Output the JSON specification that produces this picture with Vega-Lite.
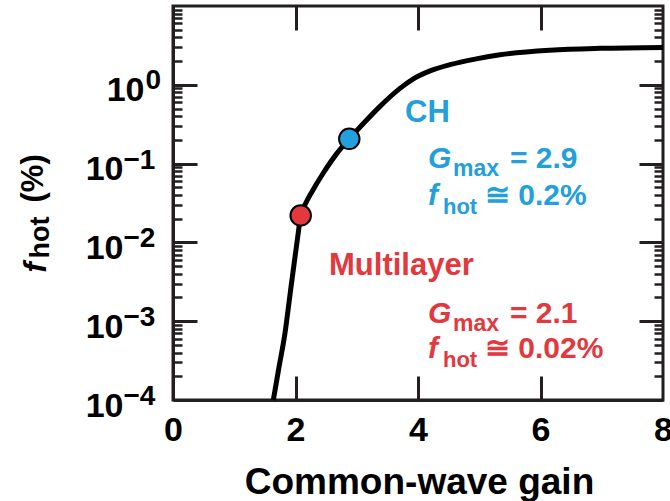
{
  "$schema": "https://vega.github.io/schema/vega-lite/v6.json",
  "width": 490,
  "height": 394,
  "autosize": "none",
  "padding": {"left": 173, "top": 6, "right": 7, "bottom": 101},
  "background": "white",
  "config": {
    "view": {"stroke": "#231f20", "strokeWidth": 3},
    "font": "Liberation Sans",
    "axis": {
      "grid": false,
      "domainColor": "#231f20",
      "tickColor": "#231f20",
      "labelColor": "#000000",
      "titleColor": "#000000",
      "labelFont": "Liberation Sans",
      "titleFont": "Liberation Sans",
      "labelFontWeight": "bold",
      "titleFontWeight": "bold",
      "domainWidth": 3,
      "labelFlush": false,
      "labelOverlap": false
    }
  },
  "datasets": {
    "curve": [
      {"g": 1.638, "fhot": 0.0001},
      {"g": 1.731, "fhot": 0.000262},
      {"g": 1.829, "fhot": 0.00071},
      {"g": 1.91, "fhot": 0.00216},
      {"g": 1.992, "fhot": 0.00656},
      {"g": 2.041, "fhot": 0.0125},
      {"g": 2.085, "fhot": 0.022},
      {"g": 2.171, "fhot": 0.0318},
      {"g": 2.269, "fhot": 0.044},
      {"g": 2.454, "fhot": 0.076},
      {"g": 2.661, "fhot": 0.13},
      {"g": 2.878, "fhot": 0.206},
      {"g": 3.135, "fhot": 0.34},
      {"g": 3.38, "fhot": 0.533},
      {"g": 3.706, "fhot": 0.9},
      {"g": 3.918, "fhot": 1.18},
      {"g": 4.196, "fhot": 1.5},
      {"g": 4.522, "fhot": 1.8},
      {"g": 4.931, "fhot": 2.12},
      {"g": 5.339, "fhot": 2.4},
      {"g": 6.155, "fhot": 2.74},
      {"g": 6.971, "fhot": 2.9},
      {"g": 8.0, "fhot": 2.98}
    ],
    "pts": [
      {"series": "Multilayer", "g": 2.085, "fhot": 0.022},
      {"series": "CH", "g": 2.878, "fhot": 0.206}
    ],
    "notes": [
      {"series": "CH", "part": "head", "g": 3.788, "fhot": 0.34, "t": "CH"},
      {"series": "CH", "part": "G", "g": 4.163, "fhot": 0.0887, "t": "= 2.9"},
      {"series": "CH", "part": "F", "g": 4.163, "fhot": 0.0301, "t": "≅ 0.2%"},
      {"series": "Multilayer", "part": "head", "g": 2.547, "fhot": 0.00387, "t": "Multilayer"},
      {"series": "Multilayer", "part": "G", "g": 4.163, "fhot": 0.00095, "t": "= 2.1"},
      {"series": "Multilayer", "part": "F", "g": 4.163, "fhot": 0.000342, "t": "≅ 0.02%"}
    ]
  },
  "resolve": {"axis": {"x": "independent", "y": "independent"}},
  "layer": [
    {
      "data": {"name": "curve"},
      "mark": {"type": "line", "color": "#000000", "strokeWidth": 5, "interpolate": "monotone"},
      "encoding": {
        "x": {"field": "g", "type": "quantitative", "scale": {"domain": [0, 8], "nice": false, "zero": false},
          "axis": {"orient": "bottom", "values": [0, 2, 4, 6, 8], "format": "d", "ticks": false, "labelPadding": 13, "labelFontSize": 34, "labelAngle": 0,
            "title": "Common-wave gain", "titleFontSize": 37, "titleBaseline": "alphabetic", "titleAlign": "center", "titleX": 246, "titleY": 93}},
        "y": {"field": "fhot", "type": "quantitative", "scale": {"type": "log", "domain": [0.0001, 10], "nice": false},
          "axis": {"orient": "left", "values": [0.1, 0.01, 0.001, 0.0001], "ticks": false, "labelExpr": "'10'", "labelAlign": "right", "labelBaseline": "alphabetic", "labelOffset": 16, "labelPadding": 50, "labelFontSize": 34, "title": null}}
      }
    },
    {
      "data": {"name": "pts"},
      "mark": {"type": "circle", "size": 420, "opacity": 1, "stroke": "#000000", "strokeWidth": 2},
      "encoding": {
        "x": {"field": "g", "type": "quantitative", "axis": null},
        "y": {"field": "fhot", "type": "quantitative",
          "axis": {"orient": "left", "values": [0.1, 0.01, 0.001, 0.0001], "ticks": false, "domain": false, "labelExpr": "'−' + round(-log(datum.value)/LN10)", "labelAlign": "left", "labelBaseline": "alphabetic", "labelOffset": 4.5, "labelPadding": 50, "labelFontSize": 28,
            "title": "(%)", "titleFontSize": 31, "titleAngle": 270, "titleAlign": "left", "titleBaseline": "alphabetic", "titleX": -131, "titleY": 196}},
        "color": {"field": "series", "type": "nominal", "scale": {"domain": ["CH", "Multilayer"], "range": ["#23a0db", "#e2383e"]}, "legend": null}
      }
    },
    {
      "data": {"name": "pts"},
      "mark": {"type": "point", "opacity": 0},
      "encoding": {
        "x": {"field": "g", "type": "quantitative", "axis": null},
        "y": {"field": "fhot", "type": "quantitative",
          "axis": {"orient": "left", "values": [1], "ticks": false, "domain": false, "labelExpr": "'10'", "labelAlign": "right", "labelBaseline": "alphabetic", "labelOffset": 16, "labelPadding": 29, "labelFontSize": 34,
            "title": "f", "titleFontStyle": "italic", "titleFontSize": 31, "titleAngle": 270, "titleAlign": "left", "titleBaseline": "alphabetic", "titleX": -128, "titleY": 266}}
      }
    },
    {
      "data": {"name": "pts"},
      "mark": {"type": "point", "opacity": 0},
      "encoding": {
        "x": {"field": "g", "type": "quantitative", "axis": null},
        "y": {"field": "fhot", "type": "quantitative",
          "axis": {"orient": "left", "values": [1], "ticks": false, "domain": false, "labelExpr": "'0'", "labelAlign": "left", "labelBaseline": "alphabetic", "labelOffset": 4, "labelPadding": 28, "labelFontSize": 28,
            "title": "hot", "titleFontSize": 27, "titleAngle": 270, "titleAlign": "left", "titleBaseline": "alphabetic", "titleX": -125, "titleY": 252}}
      }
    },
    {
      "data": {"name": "pts"},
      "mark": {"type": "point", "opacity": 0},
      "encoding": {
        "x": {"field": "g", "type": "quantitative", "axis": null},
        "y": {"field": "fhot", "type": "quantitative",
          "axis": {"orient": "right", "offset": -490, "values": [1, 0.1, 0.01, 0.001], "tickSize": 24, "tickWidth": 3, "domain": false, "title": null, "labelPadding": -400}}
      }
    },
    {
      "data": {"name": "pts"},
      "mark": {"type": "point", "opacity": 0},
      "encoding": {
        "x": {"field": "g", "type": "quantitative", "axis": null},
        "y": {"field": "fhot", "type": "quantitative",
          "axis": {"orient": "right", "offset": -490, "values": [0.0002, 0.0003, 0.0004, 0.0005, 0.0006, 0.0007, 0.0008, 0.0009, 0.002, 0.003, 0.004, 0.005, 0.006, 0.007, 0.008, 0.009, 0.02, 0.03, 0.04, 0.05, 0.06, 0.07, 0.08, 0.09, 0.2, 0.3, 0.4, 0.5, 0.6, 0.7, 0.8, 0.9, 2, 3, 4, 5, 6, 7, 8, 9], "tickSize": 9, "tickWidth": 2.5, "domain": false, "title": null, "labelPadding": -400}}
      }
    },
    {
      "data": {"name": "pts"},
      "mark": {"type": "point", "opacity": 0},
      "encoding": {
        "x": {"field": "g", "type": "quantitative", "axis": null},
        "y": {"field": "fhot", "type": "quantitative",
          "axis": {"orient": "left", "offset": -490, "values": [1, 0.1, 0.01, 0.001], "tickSize": 24, "tickWidth": 3, "domain": false, "title": null, "labelPadding": -400}}
      }
    },
    {
      "data": {"name": "pts"},
      "mark": {"type": "point", "opacity": 0},
      "encoding": {
        "x": {"field": "g", "type": "quantitative", "axis": null},
        "y": {"field": "fhot", "type": "quantitative",
          "axis": {"orient": "left", "offset": -490, "values": [0.0002, 0.0003, 0.0004, 0.0005, 0.0006, 0.0007, 0.0008, 0.0009, 0.002, 0.003, 0.004, 0.005, 0.006, 0.007, 0.008, 0.009, 0.02, 0.03, 0.04, 0.05, 0.06, 0.07, 0.08, 0.09, 0.2, 0.3, 0.4, 0.5, 0.6, 0.7, 0.8, 0.9, 2, 3, 4, 5, 6, 7, 8, 9], "tickSize": 9, "tickWidth": 2.5, "domain": false, "title": null, "labelPadding": -400}}
      }
    },
    {
      "data": {"name": "pts"},
      "mark": {"type": "point", "opacity": 0},
      "encoding": {
        "x": {"field": "g", "type": "quantitative",
          "axis": {"orient": "bottom", "offset": -394, "values": [2, 4, 6], "tickSize": 24, "tickWidth": 3, "domain": false, "title": null, "labelPadding": -400}},
        "y": {"field": "fhot", "type": "quantitative", "axis": null}
      }
    },
    {
      "data": {"name": "pts"},
      "mark": {"type": "point", "opacity": 0},
      "encoding": {
        "x": {"field": "g", "type": "quantitative",
          "axis": {"orient": "top", "offset": -394, "values": [2, 4, 6], "tickSize": 24, "tickWidth": 3, "domain": false, "title": null, "labelPadding": -400}},
        "y": {"field": "fhot", "type": "quantitative", "axis": null}
      }
    },
    {
      "data": {"name": "notes"},
      "transform": [{"filter": "datum.part == 'head'"}],
      "mark": {"type": "text", "align": "left", "baseline": "alphabetic", "fontSize": 31, "fontWeight": "bold", "font": "Liberation Sans"},
      "encoding": {
        "x": {"field": "g", "type": "quantitative", "axis": null},
        "y": {"field": "fhot", "type": "quantitative", "axis": null},
        "text": {"field": "t"},
        "color": {"field": "series", "type": "nominal", "scale": {"domain": ["CH", "Multilayer"], "range": ["#23a0db", "#e2383e"]}, "legend": null}
      }
    },
    {
      "data": {"name": "notes"},
      "transform": [{"filter": "datum.part == 'G'"}],
      "mark": {"type": "text", "align": "left", "baseline": "alphabetic", "fontSize": 30, "fontWeight": "bold", "fontStyle": "italic", "font": "Liberation Sans"},
      "encoding": {
        "x": {"field": "g", "type": "quantitative", "axis": null},
        "y": {"field": "fhot", "type": "quantitative", "axis": null},
        "text": {"value": "G"},
        "color": {"field": "series", "type": "nominal", "scale": {"domain": ["CH", "Multilayer"], "range": ["#23a0db", "#e2383e"]}, "legend": null}
      }
    },
    {
      "data": {"name": "notes"},
      "transform": [{"filter": "datum.part == 'G'"}],
      "mark": {"type": "text", "align": "left", "baseline": "alphabetic", "fontSize": 23, "fontWeight": "bold", "font": "Liberation Sans", "dx": 25, "dy": 8},
      "encoding": {
        "x": {"field": "g", "type": "quantitative", "axis": null},
        "y": {"field": "fhot", "type": "quantitative", "axis": null},
        "text": {"value": "max"},
        "color": {"field": "series", "type": "nominal", "scale": {"domain": ["CH", "Multilayer"], "range": ["#23a0db", "#e2383e"]}, "legend": null}
      }
    },
    {
      "data": {"name": "notes"},
      "transform": [{"filter": "datum.part == 'G'"}],
      "mark": {"type": "text", "align": "left", "baseline": "alphabetic", "fontSize": 30, "fontWeight": "bold", "font": "Liberation Sans", "dx": 82},
      "encoding": {
        "x": {"field": "g", "type": "quantitative", "axis": null},
        "y": {"field": "fhot", "type": "quantitative", "axis": null},
        "text": {"field": "t"},
        "color": {"field": "series", "type": "nominal", "scale": {"domain": ["CH", "Multilayer"], "range": ["#23a0db", "#e2383e"]}, "legend": null}
      }
    },
    {
      "data": {"name": "notes"},
      "transform": [{"filter": "datum.part == 'F'"}],
      "mark": {"type": "text", "align": "left", "baseline": "alphabetic", "fontSize": 30, "fontWeight": "bold", "fontStyle": "italic", "font": "Liberation Sans"},
      "encoding": {
        "x": {"field": "g", "type": "quantitative", "axis": null},
        "y": {"field": "fhot", "type": "quantitative", "axis": null},
        "text": {"value": "f"},
        "color": {"field": "series", "type": "nominal", "scale": {"domain": ["CH", "Multilayer"], "range": ["#23a0db", "#e2383e"]}, "legend": null}
      }
    },
    {
      "data": {"name": "notes"},
      "transform": [{"filter": "datum.part == 'F'"}],
      "mark": {"type": "text", "align": "left", "baseline": "alphabetic", "fontSize": 22, "fontWeight": "bold", "font": "Liberation Sans", "dx": 15, "dy": 9},
      "encoding": {
        "x": {"field": "g", "type": "quantitative", "axis": null},
        "y": {"field": "fhot", "type": "quantitative", "axis": null},
        "text": {"value": "hot"},
        "color": {"field": "series", "type": "nominal", "scale": {"domain": ["CH", "Multilayer"], "range": ["#23a0db", "#e2383e"]}, "legend": null}
      }
    },
    {
      "data": {"name": "notes"},
      "transform": [{"filter": "datum.part == 'F'"}],
      "mark": {"type": "text", "align": "left", "baseline": "alphabetic", "fontSize": 30, "fontWeight": "bold", "font": "Liberation Sans", "dx": 57},
      "encoding": {
        "x": {"field": "g", "type": "quantitative", "axis": null},
        "y": {"field": "fhot", "type": "quantitative", "axis": null},
        "text": {"field": "t"},
        "color": {"field": "series", "type": "nominal", "scale": {"domain": ["CH", "Multilayer"], "range": ["#23a0db", "#e2383e"]}, "legend": null}
      }
    }
  ]
}
